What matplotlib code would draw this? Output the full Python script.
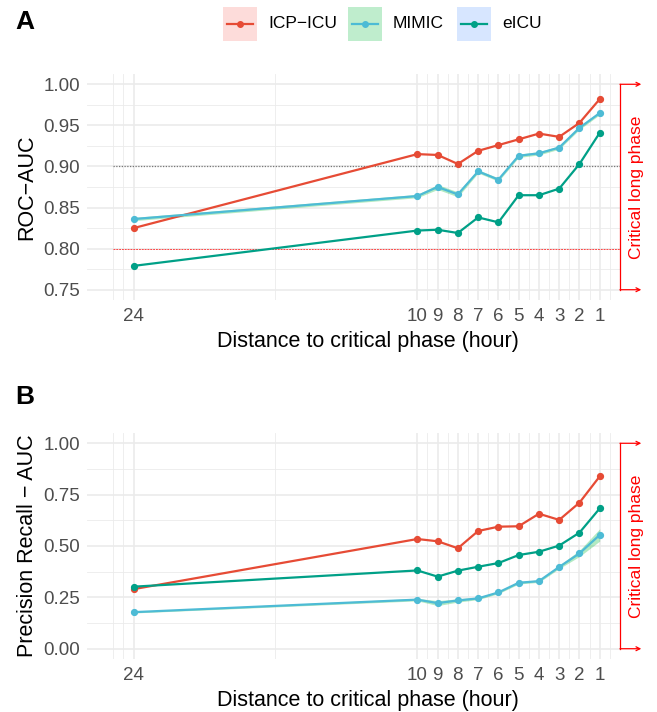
import matplotlib
matplotlib.use("Agg")
import matplotlib.pyplot as plt
from matplotlib.patches import Rectangle
from matplotlib.lines import Line2D

plt.rcParams.update({"font.family": ["Liberation Sans", "DejaVu Sans"]})

# ---- data ----
hours = [24, 10, 9, 8, 7, 6, 5, 4, 3, 2, 1]
tick_labels = ["24", "10", "9", "8", "7", "6", "5", "4", "3", "2", "1"]
series_names = ["ICP\u2212ICU", "MIMIC", "eICU"]

roc_icp = [0.825, 0.915, 0.914, 0.903, 0.919, 0.926, 0.933, 0.940, 0.936, 0.953, 0.982]
roc_mimic = [0.836, 0.864, 0.875, 0.866, 0.894, 0.884, 0.913, 0.916, 0.923, 0.947, 0.965]
roc_eicu = [0.779, 0.822, 0.823, 0.819, 0.838, 0.832, 0.865, 0.865, 0.873, 0.903, 0.941]
roc_mimic_ci = [0.002, 0.002, 0.003, 0.003, 0.002, 0.002, 0.002, 0.002, 0.002, 0.002, 0.002]

pr_icp = [0.290, 0.534, 0.523, 0.489, 0.573, 0.594, 0.596, 0.657, 0.627, 0.711, 0.839]
pr_mimic = [0.178, 0.239, 0.222, 0.235, 0.245, 0.274, 0.321, 0.329, 0.398, 0.464, 0.554]
pr_eicu = [0.302, 0.381, 0.351, 0.380, 0.399, 0.417, 0.456, 0.472, 0.502, 0.565, 0.683]
pr_mimic_ci = [0.004, 0.006, 0.012, 0.008, 0.006, 0.006, 0.006, 0.006, 0.008, 0.015, 0.030]

# ---- style ----
LINE_COLS = ["#E64B35", "#4DBBD5", "#00A087"]
FILL_COLS = ["#F8766D", "#00BA38", "#619CFF"]
GRID = "#EBEBEB"
TXT = "#4D4D4D"
W, H = 657, 712

fig = plt.figure(figsize=(W / 100, H / 100), dpi=100)


def px_axes(left, top, right, bottom):
    return fig.add_axes([left / W, 1 - bottom / H, (right - left) / W, (bottom - top) / H])


def panel(ax, ys, ci, ylim, yticks, yminor, ylabel, hl, bracket):
    ax.set_xlim(26.3, 0.0)
    ax.set_ylim(*ylim)
    ax.set_xticks(hours)
    ax.set_xticklabels(tick_labels)
    ax.set_xticks([25, 24.5, 17, 9.5, 8.5, 7.5, 6.5, 5.5, 4.5, 3.5, 2.5, 1.5, 0.5], minor=True)
    ax.set_yticks(yticks)
    ax.set_yticks(yminor, minor=True)
    ax.grid(which="major", color=GRID, lw=1.2, zorder=0)
    ax.grid(which="minor", color=GRID, lw=0.6, zorder=0)
    ax.set_axisbelow(True)
    ax.tick_params(which="both", length=0, labelsize=13.5, colors=TXT)
    ax.tick_params(axis="x", pad=6)
    ax.tick_params(axis="y", pad=5)
    for s in ax.spines.values():
        s.set_visible(False)
    if hl:
        ax.hlines(0.9, 25, 0, colors="#777777", linestyles=(0, (1, 1.2)), lw=0.9, zorder=1)
        ax.hlines(0.8, 25, 0, colors="#FF2A2A", linestyles=(0, (2.2, 1.2)), lw=0.6, zorder=1)
    for i, y in enumerate(ys):
        if i == 1:
            lo = [a - b for a, b in zip(y, ci)]
            hi = [a + b for a, b in zip(y, ci)]
            ax.fill_between(hours, lo, hi, color=FILL_COLS[i], alpha=0.3, lw=0, zorder=2)
        ax.plot(hours, y, color=LINE_COLS[i], lw=1.6, marker="o", ms=4.2, zorder=3)
    lo, hi = bracket
    ax.plot([0, 0], [lo, hi], color="red", lw=0.9, clip_on=False, zorder=4)
    for yy in (lo, hi):
        ax.annotate("", xy=(-1.05, yy), xytext=(0, yy),
                    arrowprops=dict(arrowstyle="->", color="red", lw=0.9, mutation_scale=7,
                                    shrinkA=0, shrinkB=0),
                    annotation_clip=False)
    ax.text(-0.8, (lo + hi) / 2, "Critical long phase", rotation=90, color="red",
            fontsize=12.5, ha="center", va="center", clip_on=False)
    ax.set_xlabel("Distance to critical phase (hour)", fontsize=15.5, color="black", labelpad=4)
    ax.xaxis.label.set_x((368 - 87) / 533)
    ax.set_ylabel(ylabel, fontsize=15.5, color="black", labelpad=4)


axA = px_axes(87, 74, 620, 300)
panel(axA, [roc_icp, roc_mimic, roc_eicu], roc_mimic_ci, (0.7375, 1.0125),
      [0.75, 0.80, 0.85, 0.90, 0.95, 1.00], [0.775, 0.825, 0.875, 0.925, 0.975],
      "ROC\u2212AUC", True, (0.75, 1.00))
axA.set_yticklabels(["0.75", "0.80", "0.85", "0.90", "0.95", "1.00"])

axB = px_axes(87, 433, 620, 659)
panel(axB, [pr_icp, pr_mimic, pr_eicu], pr_mimic_ci, (-0.05, 1.05),
      [0, 0.25, 0.5, 0.75, 1.0], [0.125, 0.375, 0.625, 0.875],
      "Precision Recall \u2212 AUC", False, (0.0, 1.0))
axB.set_yticklabels(["0.00", "0.25", "0.50", "0.75", "1.00"])

fig.text(25 / W, 1 - 22 / H, "A", fontsize=19, fontweight="bold", ha="center", va="center")
fig.text(25 / W, 1 - 397 / H, "B", fontsize=19, fontweight="bold", ha="center", va="center")

# ---- legend (drawn by hand in pixel coords) ----
box_x = [223, 348, 457]
for i, name in enumerate(series_names):
    x0 = box_x[i]
    fig.patches.append(Rectangle((x0 / W, 1 - 41 / H), 34 / W, 34 / H, transform=fig.transFigure,
                                 facecolor=FILL_COLS[i], alpha=0.25, edgecolor="none"))
    fig.lines.append(Line2D([(x0 + 4) / W, (x0 + 30) / W], [1 - 24 / H, 1 - 24 / H],
                            transform=fig.transFigure, color=LINE_COLS[i], lw=1.6))
    fig.lines.append(Line2D([(x0 + 17) / W], [1 - 24 / H], transform=fig.transFigure,
                            color=LINE_COLS[i], marker="o", ms=4))
    fig.text((x0 + 45) / W, 1 - 24 / H, name, fontsize=12.5, ha="left", va="center")

fig.savefig("out.png", dpi=100, facecolor="white")
